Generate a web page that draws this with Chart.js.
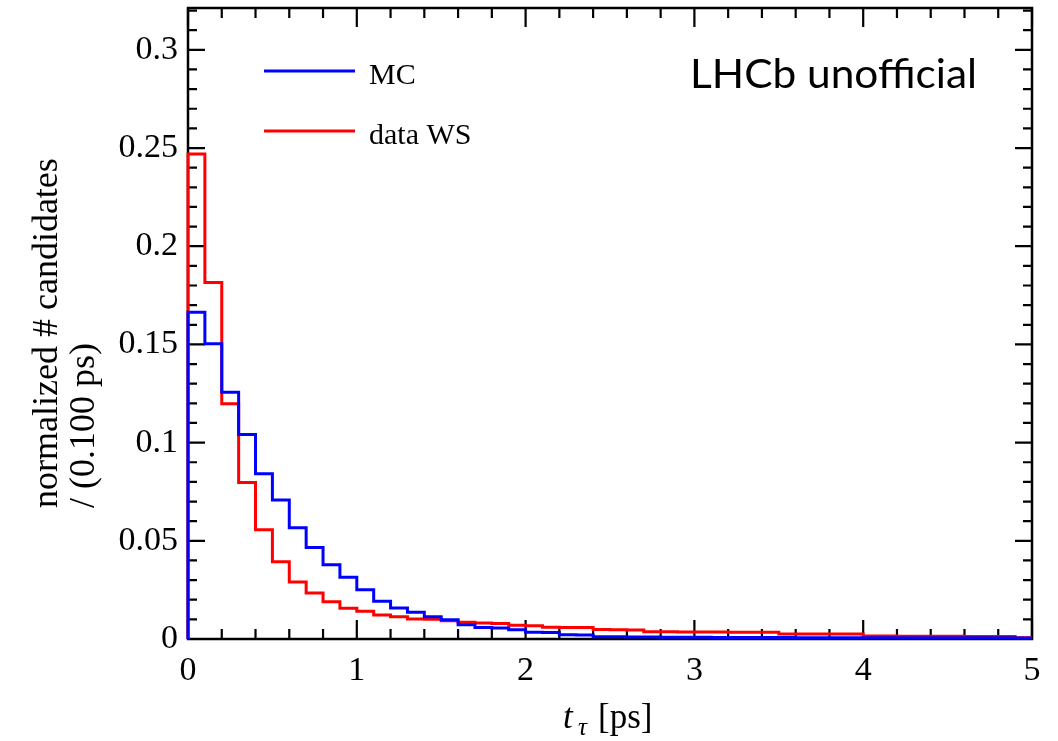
<!DOCTYPE html>
<html>
<head>
<meta charset="utf-8">
<script src="https://cdn.jsdelivr.net/npm/chart.js@4.4.1/dist/chart.umd.min.js"></script>
<style>
  html, body { margin: 0; padding: 0; background: #fff; }
  #wrap { width: 1058px; height: 741px; }
</style>
</head>
<body>
<div id="wrap"><canvas id="lifetimeChart" width="1058" height="741"></canvas></div>
<script>
// histogram bins: 0.1 ps wide, from 0 to 5 ps
const binWidth = 0.1;

const mcValues = [
  0.1664, 0.1503, 0.1257, 0.1041, 0.0842, 0.0708, 0.0566, 0.0466, 0.0378, 0.0314,
  0.0251, 0.0192, 0.0158, 0.0136, 0.0113, 0.0098, 0.0073, 0.0059, 0.0056, 0.0047,
  0.0034, 0.0033, 0.0022, 0.0021, 0.0012, 0.0011, 0.0010, 0.0010, 0.0009, 0.0009,
  0.0009, 0.0008, 0.0008, 0.0008, 0.0008, 0.0008, 0.0007, 0.0007, 0.0007, 0.0007,
  0.0007, 0.0007, 0.0007, 0.0006, 0.0006, 0.0006, 0.0006, 0.0006, 0.0006, 0.0005
];

const dataWsValues = [
  0.2470, 0.1815, 0.1198, 0.0797, 0.0556, 0.0393, 0.0290, 0.0234, 0.0190, 0.0156,
  0.0141, 0.0122, 0.0113, 0.0102, 0.0100, 0.0093, 0.0085, 0.0081, 0.0079, 0.0070,
  0.0068, 0.0060, 0.0059, 0.0058, 0.0048, 0.0047, 0.0046, 0.0037, 0.0037, 0.0036,
  0.0036, 0.0036, 0.0035, 0.0035, 0.0035, 0.0026, 0.0026, 0.0025, 0.0025, 0.0025,
  0.0015, 0.0015, 0.0014, 0.0014, 0.0014, 0.0014, 0.0013, 0.0013, 0.0013, 0.0006
];

const seriesLabels = ['MC', 'data WS'];
const xTickLabels = ['0', '1', '2', '3', '4', '5'];
const yTickLabels = ['0', '0.05', '0.1', '0.15', '0.2', '0.25', '0.3'];

const serif = "'Liberation Serif', 'DejaVu Serif', serif";

// turn bin contents into step points (left edges + closing right edge)
function histPoints(values) {
  const pts = [{ x: 0, y: 0 }];
  values.forEach(function (v, i) {
    pts.push({ x: +(i * binWidth).toFixed(2), y: v });
  });
  pts.push({ x: +(values.length * binWidth).toFixed(2), y: values[values.length - 1] });
  return pts;
}

function labelFor(list, value) {
  const hit = list.find(l => Math.abs(parseFloat(l) - value) < 1e-6);
  return hit === undefined ? '' : hit;
}

// ROOT-style frame with inward ticks on all four sides
const frameTicks = {
  id: 'frameTicks',
  beforeDatasetsDraw(chart) {
    const { ctx, chartArea: a, scales } = chart;
    const xs = scales.x, ys = scales.y;
    ctx.save();
    ctx.strokeStyle = '#000';
    ctx.lineWidth = 2.5;
    ctx.strokeRect(a.left, a.top, a.right - a.left, a.bottom - a.top);

    ctx.lineWidth = 2.2;
    ctx.beginPath();
    for (let k = 0; k <= 25; k++) {
      const v = k * 0.2;
      const px = xs.getPixelForValue(v);
      const len = (k % 5 === 0) ? 19 : 10;
      ctx.moveTo(px, a.bottom); ctx.lineTo(px, a.bottom - len);
      ctx.moveTo(px, a.top); ctx.lineTo(px, a.top + len);
    }
    for (let k = 0; k <= 32; k++) {
      const v = k * 0.01;
      if (v > ys.max) break;
      const py = ys.getPixelForValue(v);
      const len = (k % 5 === 0) ? 17 : 9;
      ctx.moveTo(a.left, py); ctx.lineTo(a.left + len, py);
      ctx.moveTo(a.right, py); ctx.lineTo(a.right - len, py);
    }
    ctx.stroke();
    ctx.restore();
  },
  afterDraw(chart) {
    const { ctx } = chart;
    ctx.save();
    ctx.fillStyle = '#000';

    // y axis title, two lines left-aligned from the bottom
    ctx.save();
    ctx.rotate(-Math.PI / 2);
    ctx.font = '36px ' + serif;
    ctx.textAlign = 'left';
    ctx.textBaseline = 'alphabetic';
    ctx.fillText('normalized # candidates', -508, 57);
    ctx.fillText('/ (0.100 ps)', -508, 94);
    ctx.restore();

    // x axis title t_tau [ps]
    ctx.textBaseline = 'alphabetic';
    ctx.textAlign = 'left';
    ctx.font = 'italic 35px ' + serif;
    ctx.fillText('t', 563, 728);
    ctx.font = 'italic 25px ' + serif;
    ctx.fillText('\u03C4', 578, 735);
    ctx.font = '35px ' + serif;
    ctx.fillText('[ps]', 598, 728);

    // legend
    chart.data.datasets.forEach(function (ds, i) {
      const y = 71 + i * 60;
      ctx.strokeStyle = ds.borderColor;
      ctx.lineWidth = 3;
      ctx.beginPath();
      ctx.moveTo(264, y); ctx.lineTo(355, y);
      ctx.stroke();
      ctx.font = '30px ' + serif;
      ctx.fillText(ds.label, 369, y + 13);
    });

    // LHCb label
    ctx.font = "41px Lato, 'Open Sans', sans-serif";
    const txt = 'LHCb unofficial';
    const w = ctx.measureText(txt).width;
    ctx.save();
    ctx.translate(690, 88);
    ctx.scale(287 / w, 1);
    ctx.fillText(txt, 0, 0);
    ctx.restore();

    ctx.restore();
  }
};

function initChart() {
  const ctx = document.getElementById('lifetimeChart');
  new Chart(ctx, {
    type: 'line',
    data: {
      datasets: [
        {
          label: seriesLabels[0],
          data: histPoints(mcValues),
          borderColor: '#0000ff',
          borderWidth: 3,
          stepped: 'before',
          pointRadius: 0,
          fill: false,
          clip: 4,
        },
        {
          label: seriesLabels[1],
          data: histPoints(dataWsValues),
          borderColor: '#ff0000',
          borderWidth: 3,
          stepped: 'before',
          pointRadius: 0,
          fill: false,
          clip: 4,
        },
      ],
    },
    options: {
      responsive: false,
      animation: false,
      layout: { padding: { left: 0, right: 26, top: 8, bottom: 0 } },
      plugins: { legend: { display: false }, tooltip: { enabled: false } },
      scales: {
        x: {
          type: 'linear',
          min: 0,
          max: 5,
          grid: { display: false, drawTicks: false },
          border: { display: false },
          ticks: {
            stepSize: 1,
            includeBounds: false,
            maxRotation: 0,
            autoSkip: false,
            padding: 12,
            color: '#000',
            font: { family: serif, size: 34 },
            callback: v => labelFor(xTickLabels, v),
          },
          afterFit: s => { s.height = 102; s.paddingLeft = 0; s.paddingRight = 0; },
        },
        y: {
          type: 'linear',
          min: 0,
          max: 0.3213,
          grid: { display: false, drawTicks: false },
          border: { display: false },
          ticks: {
            stepSize: 0.05,
            includeBounds: false,
            autoSkip: false,
            padding: 10,
            color: '#000',
            font: { family: serif, size: 34 },
            callback: v => labelFor(yTickLabels, v),
          },
          afterFit: s => { s.width = 188; s.paddingTop = 0; s.paddingBottom = 0; },
        },
      },
    },
    plugins: [frameTicks],
  });
}

document.addEventListener('DOMContentLoaded', initChart);
</script>
</body>
</html>
